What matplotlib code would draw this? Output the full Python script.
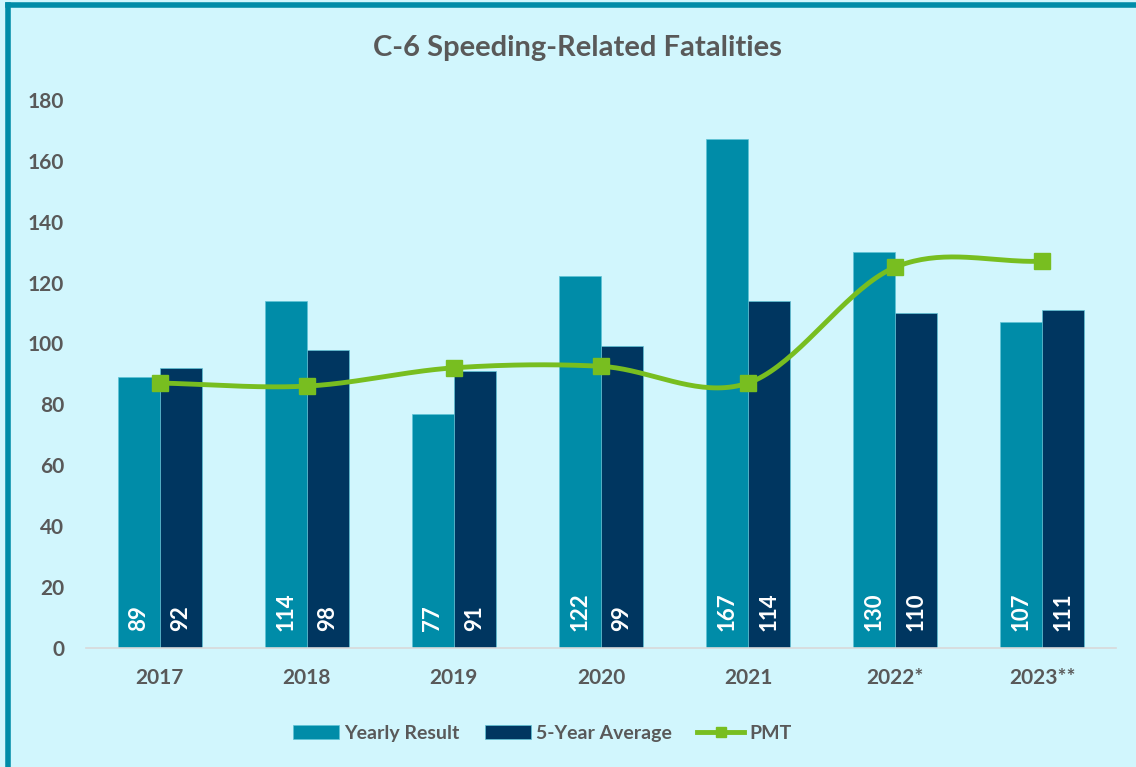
import numpy as np
import matplotlib.pyplot as plt
from matplotlib.lines import Line2D
from matplotlib.patches import Patch

plt.rcParams['font.family'] = ['Lato', 'DejaVu Sans']

years = ['2017', '2018', '2019', '2020', '2021', '2022*', '2023**']
yearly = [89, 114, 77, 122, 167, 130, 107]
avg5 = [92, 98, 91, 99, 114, 110, 111]
pmt = [87, 86, 92, 92.5, 87, 125, 127]

c_year = '#008CA8'
c_avg = '#003660'
c_pmt = '#78BE20'
bg = '#D1F6FD'
grey = '#595959'


def catmull_rom(xs, ys, n=40):
    # smooth curve through the points, like Excel's smoothed line
    xs = np.asarray(xs, float)
    ys = np.asarray(ys, float)
    px = np.concatenate([[2 * xs[0] - xs[1]], xs, [2 * xs[-1] - xs[-2]]])
    py = np.concatenate([[2 * ys[0] - ys[1]], ys, [2 * ys[-1] - ys[-2]]])
    ox, oy = [], []
    t = np.linspace(0, 1, n)
    for i in range(1, len(px) - 2):
        for p, o in ((px, ox), (py, oy)):
            p0, p1, p2, p3 = p[i - 1], p[i], p[i + 1], p[i + 2]
            o.extend(0.5 * (2 * p1 + (-p0 + p2) * t
                            + (2 * p0 - 5 * p1 + 4 * p2 - p3) * t ** 2
                            + (-p0 + 3 * p1 - 3 * p2 + p3) * t ** 3))
    return np.array(ox), np.array(oy)


fig = plt.figure(figsize=(11.36, 7.67), dpi=100, facecolor=bg)
ax = fig.add_axes([0.076, 0.155, 0.906, 0.715], facecolor=bg)

x = np.arange(len(years))
w = 0.285
b1 = ax.bar(x - w / 2, yearly, w, color=c_year, edgecolor='#5FC3D6', linewidth=0.5)
b2 = ax.bar(x + w / 2, avg5, w, color=c_avg, edgecolor='#5FC3D6', linewidth=0.5)

for bars, vals in ((b1, yearly), (b2, avg5)):
    for r, v in zip(bars, vals):
        ax.text(r.get_x() + r.get_width() / 2, 5.5, str(v), rotation=90,
                ha='center', va='bottom', color='white', fontsize=16,
                fontweight='bold')

sx, sy = catmull_rom(x, pmt)
ax.plot(sx, sy, color=c_pmt, lw=3.5, zorder=3)
ax.plot(x, pmt, 's', color=c_pmt, ms=12, zorder=4)

ax.set_xlim(-0.5, len(years) - 0.5)
ax.set_ylim(0, 180)
ax.set_yticks(range(0, 181, 20))
ax.set_xticks(x)
ax.set_xticklabels(years)
for s in ['top', 'right', 'left']:
    ax.spines[s].set_visible(False)
ax.spines['bottom'].set_color('#D9D9D9')
ax.spines['bottom'].set_linewidth(1.2)
ax.tick_params(length=0, labelsize=15, labelcolor=grey)
ax.tick_params(axis='y', pad=16)
ax.tick_params(axis='x', pad=14)
for lab in ax.get_xticklabels() + ax.get_yticklabels():
    lab.set_fontweight('bold')

fig.text(0.508, 0.938, 'C-6 Speeding-Related Fatalities', ha='center', va='center',
         fontsize=21, fontweight='bold', color=grey)

handles = [Patch(facecolor=c_year, edgecolor='#5FC3D6', lw=0.5),
           Patch(facecolor=c_avg, edgecolor='#5FC3D6', lw=0.5),
           Line2D([0], [0], color=c_pmt, lw=3.5, marker='s', ms=7)]
leg = fig.legend(handles, ['Yearly Result', '5-Year Average', 'PMT'],
                 loc='center', bbox_to_anchor=(0.477, 0.044), ncol=3, frameon=False,
                 fontsize=14, handlelength=2.4, handleheight=0.75,
                 columnspacing=1.3, handletextpad=0.25)
for t in leg.get_texts():
    t.set_color(grey)
    t.set_fontweight('bold')

# teal frame on top and left
fig.add_artist(Line2D([0.007, 1.0], [0.993, 0.993], color=c_year, lw=4,
                      transform=fig.transFigure))
fig.add_artist(Line2D([0.007, 0.007], [0.0, 0.993], color=c_year, lw=4,
                      transform=fig.transFigure))

fig.savefig('out.png', dpi=100, facecolor=bg)
